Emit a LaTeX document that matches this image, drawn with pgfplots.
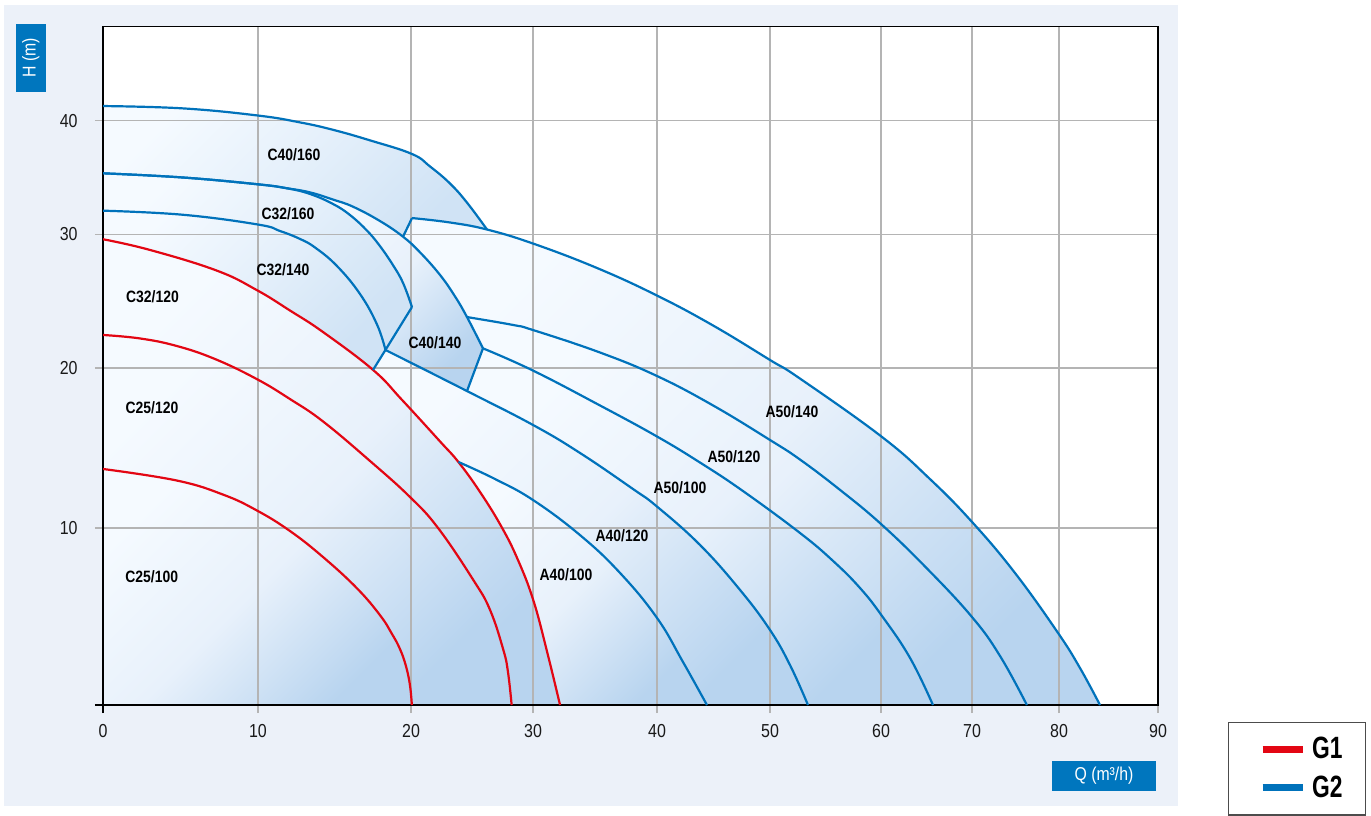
\documentclass[border=0pt]{standalone}
\usepackage{fontspec}
\setmainfont{Liberation Sans}[FakeStretch=0.85]
\newfontfamily\legfont{Liberation Sans}[FakeStretch=0.74]
\usepackage{pgfplots}
\pgfplotsset{compat=1.18}
\definecolor{panelcol}{HTML}{ECF1F9}
\definecolor{gridgray}{HTML}{B4B4B4}
\definecolor{boxblue}{HTML}{0076BE}
\definecolor{curveblue}{HTML}{0072BB}
\definecolor{curvered}{HTML}{E30613}
\definecolor{fillA}{HTML}{F5FAFF}
\definecolor{fillM}{HTML}{E8F1FB}
\definecolor{fillB}{HTML}{B8D4EF}
\definecolor{fillL}{HTML}{D0E3F5}
% non-linear scales of the original chart (piecewise linear between grid lines)
\pgfplotsset{
  x coord trafo/.code={\pgfmathparse{((#1)<10)?(15.5*(#1)):(((#1)<20)?(155+15.3*((#1)-10)):(((#1)<30)?(308+12.2*((#1)-20)):(((#1)<40)?(430+12.4*((#1)-30)):(((#1)<50)?(554+11.3*((#1)-40)):(((#1)<60)?(667+11.1*((#1)-50)):(((#1)<70)?(778+9.1*((#1)-60)):(((#1)<80)?(869+8.7*((#1)-70)):(956+9.9*((#1)-80)))))))))}},
  y coord trafo/.code={\pgfmathparse{((#1)<10)?(17.7*(#1)):(((#1)<20)?(177+16*((#1)-10)):(((#1)<30)?(337+13.37*((#1)-20)):(((#1)<40)?(470.7+11.36*((#1)-30)):(584.3+9.4*((#1)-40)))))}},
  regfill/.style={draw=none, top color=fillA, bottom color=fillB, middle color=fillM, shading angle=45},
  regfillL/.style={draw=none, top color=fillA, bottom color=fillL, middle color=fillA!55!fillL, shading angle=45},
  redc/.style={curvered, line width=1.1pt, smooth, tension=0.7},
  bluec/.style={curveblue, line width=1.1pt, smooth, tension=0.7},
  blues/.style={curveblue, line width=1.1pt},
  base/.style={at={(0pt,0pt)}, anchor=south west, width=527.5pt, height=339.15pt, scale only axis,
    xmin=0, xmax=90, ymin=0, ymax=50},
}
\begin{document}
\begin{tikzpicture}
\begin{scope}[x=0.5pt,y=-0.5pt,shift={(-51.5pt,352.5pt)}]
  \path[use as bounding box, fill=white] (0,0) rectangle (1371,806);
  \fill[panelcol] (4,5) rectangle (1178,806);
\end{scope}

% ---------- axis 1: frame, grid, shaded regions ----------
\begin{axis}[base,
  axis on top,
  axis background/.style={fill=white},
  xtick={10,20,30,40,50,60,70,80,90},
  xticklabels={10,20,30,40,50,60,70,80,90},
  ytick={10,20,30,40}, yticklabels={10,20,30,40},
  extra x ticks={0}, extra x tick labels={0},
  extra x tick style={grid=none, major tick style={draw=black, line width=0.6pt}},
  extra y ticks={0}, extra y tick labels={},
  extra y tick style={grid=none, major tick style={draw=black, line width=0.6pt}},
  grid=major,
  major grid style={draw=gridgray, line width=0.65pt},
  tick align=outside, tick pos=left,
  major tick length=4pt,
  major tick style={draw=gridgray, line width=0.65pt},
  axis line style={draw=black, line width=0.6pt},
  ticklabel style={font=\fontsize{9.4}{10}\selectfont, text=black!90},
  xticklabel style={inner sep=0pt, yshift=-5.5pt},
  yticklabel style={inner sep=0pt, xshift=-8.5pt},
  xlabel={Q (m³/h)}, ylabel={H (m)},
  xlabel style={at={(axis description cs:0.9488,-0.1042)}, anchor=center, fill=boxblue, text=white,
    inner sep=0pt, minimum width=52pt, minimum height=15pt, font=\fontsize{9.3}{10}\selectfont},
  ylabel style={at={(axis description cs:-0.0684,0.9541)}, anchor=center, fill=boxblue, text=white,
    inner sep=0pt, minimum width=33.85pt, minimum height=14.85pt, font=\fontsize{9.3}{10}\selectfont},
]
% C25/100
\addplot[regfill] coordinates {(0,0) (0,13.69) (4.75,12.97) (7.74,12.09) (9.92,11.1) (12.09,9.83) (14.25,8.36) (16.45,6.61) (17.97,5.08) (18.76,4.01) (19.28,3.16) (19.67,2.2) (19.93,1.13) (20.07,0)} -- cycle;
% C25/120
\addplot[regfill] coordinates {(0,22.47) (2.39,22.21) (4.75,21.65) (7.23,20.67) (9.92,19.31) (12.09,18.06) (14.25,16.66) (17.32,14.19) (19.93,11.94) (22.24,9.98) (25.11,7.06) (26.48,5.37) (27.57,3.11) (27.95,1.86) (28.25,0) (20.07,0) (19.93,1.13) (19.67,2.2) (19.28,3.16) (18.76,4.01) (17.97,5.08) (16.45,6.61) (14.25,8.36) (12.09,9.83) (9.92,11.1) (7.74,12.09) (4.75,12.97) (0,13.69)} -- cycle;
% C32/120
\addplot[regfill] coordinates {(0,29.63) (3.03,28.83) (7.33,27.29) (9.92,25.83) (12.09,24.3) (14.25,22.69) (17.52,19.88) (19.39,18.03) (22.38,15.41) (23.88,14.13) (25.66,12.25) (27.43,10.06) (28.77,8.19) (30.02,5.93) (31.1,3.11) (32.18,0) (28.25,0) (27.95,1.86) (27.57,3.11) (26.48,5.37) (25.11,7.06) (22.24,9.98) (19.93,11.94) (17.32,14.19) (14.25,16.66) (12.09,18.06) (9.92,19.31) (7.23,20.67) (4.75,21.65) (2.39,22.21) (0,22.47)} -- cycle;
% C32/140
\addplot[regfillL] coordinates {(0,32.08) (5.16,31.72) (10,30.86) (11.44,30.29) (12.75,29.65) (13.73,29.01) (15.16,27.63) (16.67,25.53) (17.78,23.25) (18.33,21.35) (17.52,19.88) (14.25,22.69) (12.09,24.3) (9.92,25.83) (7.33,27.29) (3.03,28.83) (0,29.63)} -- cycle;
% C32/160
\addplot[regfillL] coordinates {(0,35.37) (5.16,35.0) (10,34.4) (11.9,34.05) (13.4,33.55) (14.9,32.67) (16.01,31.7) (17.12,30.33) (17.97,29.12) (18.82,27.7) (19.48,26.36) (20.08,24.56) (18.33,21.35) (17.78,23.25) (16.67,25.53) (15.16,27.63) (13.73,29.01) (12.75,29.65) (11.44,30.29) (10,30.86) (5.16,31.72) (0,32.08)} -- cycle;
% C40/140
\addplot[regfill] coordinates {(11.9,34.05) (13.4,33.69) (14.9,33.06) (16.21,32.43) (17.97,31.17) (19.48,29.82) (20.74,28.65) (22.38,26.96) (23.61,25.35) (24.59,23.81) (25.9,21.47) (24.59,18.56) (18.33,21.35) (20.08,24.56) (19.48,26.36) (18.82,27.7) (17.97,29.12) (17.12,30.33) (16.01,31.7) (14.9,32.67) (13.4,33.55)} -- cycle;
% C40/160
\addplot[regfillL] coordinates {(0,41.56) (5.16,41.31) (10,40.55) (12.75,39.85) (14.9,39.2) (17.32,38.27) (20.08,37.07) (21.56,35.97) (23.2,34.47) (24.59,32.79) (26.23,30.42) (23.2,31.04) (20.08,31.43) (19.48,29.82) (17.97,31.17) (16.21,32.43) (14.9,33.06) (13.4,33.69) (11.9,34.05) (10,34.4) (5.16,35.0) (0,35.37)} -- cycle;
% A50/140
\addplot[regfill] coordinates {(20.08,31.43) (23.2,31.04) (26.23,30.42) (30,29.31) (35.16,27.48) (40,25.42) (44.96,23.18) (50,20.6) (52.7,19.34) (60.11,15.69) (65.38,13.06) (70,10.38) (74.94,7.46) (79.89,4.07) (82.12,2.09) (84.14,0) (76.31,0) (73.22,2.77) (70,4.97) (65,7.74) (60,10.25) (56.31,12.38) (52.7,14.28) (50,15.5) (44.96,17.66) (40,19.5) (35.4,21.16) (30,22.84) (28.36,23.22) (24.59,23.81) (23.61,25.35) (22.38,26.96) (20.74,28.65) (19.48,29.82)} -- cycle;
% A50/120
\addplot[regfill] coordinates {(24.59,23.81) (28.36,23.22) (30,22.84) (35.4,21.16) (40,19.5) (44.96,17.66) (50,15.5) (52.7,14.28) (56.31,12.38) (60,10.25) (65,7.74) (70,4.97) (73.22,2.77) (76.31,0) (65.71,0) (63.19,2.66) (60.11,5.03) (58.11,6.61) (55.68,8.14) (52.7,9.72) (47.61,12.31) (43.81,14.09) (40,15.72) (35.4,17.66) (30,19.84) (25.9,21.47)} -- cycle;
% A50/100
\addplot[regfill] coordinates {(25.9,21.47) (30,19.84) (35.4,17.66) (40,15.72) (43.81,14.09) (47.61,12.31) (52.7,9.72) (55.68,8.14) (58.11,6.61) (60.11,5.03) (63.19,2.66) (65.71,0) (53.42,0) (51.8,2.26) (50,4.24) (47.35,6.5) (43.81,9.04) (40,11.34) (38.06,12.44) (33.79,14.69) (30,16.44) (24.59,18.56)} -- cycle;
% A40/120
\addplot[regfill] coordinates {(18.33,21.35) (24.59,18.56) (30,16.44) (33.79,14.69) (38.06,12.44) (40,11.34) (43.81,9.04) (47.35,6.5) (50,4.24) (51.8,2.26) (53.42,0) (44.42,0) (42.3,2.43) (40,4.92) (37.02,7.46) (33.79,9.6) (30,11.75) (26.89,13.06) (23.88,14.13) (22.38,15.41) (19.39,18.03) (17.52,19.88)} -- cycle;
% A40/100
\addplot[regfill] coordinates {(23.88,14.13) (26.89,13.06) (30,11.75) (33.79,9.6) (37.02,7.46) (40,4.92) (42.3,2.43) (44.42,0) (32.18,0) (31.1,3.11) (30.02,5.93) (28.77,8.19) (27.43,10.06) (25.66,12.25)} -- cycle;
\end{axis}

% ---------- axis 2: pump curves and legend ----------
\begin{axis}[base, hide axis,
  legend style={at={(1.0664,-0.0251)}, anchor=north west, draw=black!70, line width=0.65pt, fill=white,
    inner xsep=11.5pt, inner ysep=7.4pt, row sep=6.8pt,
    nodes={inner sep=0pt, text=black},
    font=\legfont\bfseries\fontsize{15.4}{16}\selectfont,
    /tikz/every odd column/.append style={column sep=3pt}},
  legend cell align=left,
  legend image code/.code={\path[draw=none] (-5.5pt,0pt) -- (0pt,0pt); \draw[line width=3.5pt] (0pt,0pt) -- (20pt,0pt);},
]
% G1 (red): C25/100, C25/120, C32/120
\addplot[redc] coordinates {(0,13.69) (4.75,12.97) (7.74,12.09) (9.92,11.1) (12.09,9.83) (14.25,8.36) (16.45,6.61) (17.97,5.08) (18.76,4.01) (19.28,3.16) (19.67,2.2) (19.93,1.13) (20.07,0)};
\addlegendentry{G1}
\addplot[redc, forget plot] coordinates {(0,22.47) (2.39,22.21) (4.75,21.65) (7.23,20.67) (9.92,19.31) (12.09,18.06) (14.25,16.66) (17.32,14.19) (19.93,11.94) (22.24,9.98) (25.11,7.06) (26.48,5.37) (27.57,3.11) (27.95,1.86) (28.25,0)};
\addplot[redc, forget plot] coordinates {(0,29.63) (3.03,28.83) (7.33,27.29) (9.92,25.83) (12.09,24.3) (14.25,22.69) (17.52,19.88) (19.39,18.03) (22.38,15.41) (23.88,14.13) (25.66,12.25) (27.43,10.06) (28.77,8.19) (30.02,5.93) (31.1,3.11) (32.18,0)};
% G2 (blue)
% C40/160
\addplot[bluec] coordinates {(0,41.56) (5.16,41.31) (10,40.55) (12.75,39.85) (14.9,39.2) (17.32,38.27) (20.08,37.07) (21.56,35.97) (23.2,34.47) (24.59,32.79) (26.23,30.42)};
\addlegendentry{G2}
% C32/160
\addplot[bluec, forget plot] coordinates {(0,35.37) (5.16,35.0) (10,34.4) (11.9,34.05) (13.4,33.55) (14.9,32.67) (16.01,31.7) (17.12,30.33) (17.97,29.12) (18.82,27.7) (19.48,26.36) (20.08,24.56)};
% C40/140
\addplot[bluec, forget plot] coordinates {(0,35.37) (5.16,35.0) (10,34.4) (11.9,34.05) (13.4,33.69) (14.9,33.06) (16.21,32.43) (17.97,31.17) (19.48,29.82) (20.74,28.65) (22.38,26.96) (23.61,25.35) (24.59,23.81) (25.9,21.47)};
% C32/140
\addplot[bluec, forget plot] coordinates {(0,32.08) (5.16,31.72) (10,30.86) (11.44,30.29) (12.75,29.65) (13.73,29.01) (15.16,27.63) (16.67,25.53) (17.78,23.25) (18.33,21.35)};
% range end lines
\addplot[blues, forget plot] coordinates {(18.33,21.35) (17.52,19.88)};
\addplot[blues, forget plot] coordinates {(20.08,24.56) (18.33,21.35)};
\addplot[blues, forget plot] coordinates {(25.9,21.47) (24.59,18.56)};
\addplot[blues, forget plot] coordinates {(19.48,29.82) (20.08,31.43)};
% A50/140
\addplot[bluec, forget plot] coordinates {(20.08,31.43) (23.2,31.04) (26.23,30.42) (30,29.31) (35.16,27.48) (40,25.42) (44.96,23.18) (50,20.6) (52.7,19.34) (60.11,15.69) (65.38,13.06) (70,10.38) (74.94,7.46) (79.89,4.07) (82.12,2.09) (84.14,0)};
% A50/120
\addplot[bluec, forget plot] coordinates {(24.59,23.81) (28.36,23.22) (30,22.84) (35.4,21.16) (40,19.5) (44.96,17.66) (50,15.5) (52.7,14.28) (56.31,12.38) (60,10.25) (65,7.74) (70,4.97) (73.22,2.77) (76.31,0)};
% A50/100
\addplot[bluec, forget plot] coordinates {(25.9,21.47) (30,19.84) (35.4,17.66) (40,15.72) (43.81,14.09) (47.61,12.31) (52.7,9.72) (55.68,8.14) (58.11,6.61) (60.11,5.03) (63.19,2.66) (65.71,0)};
% A40/120
\addplot[bluec, forget plot] coordinates {(18.33,21.35) (24.59,18.56) (30,16.44) (33.79,14.69) (38.06,12.44) (40,11.34) (43.81,9.04) (47.35,6.5) (50,4.24) (51.8,2.26) (53.42,0)};
% A40/100
\addplot[bluec, forget plot] coordinates {(23.88,14.13) (26.89,13.06) (30,11.75) (33.79,9.6) (37.02,7.46) (40,4.92) (42.3,2.43) (44.42,0)};
\end{axis}

% ---------- curve names ----------
\begin{scope}[x=0.5pt,y=-0.5pt,shift={(-51.5pt,352.5pt)}, every node/.style={font=\bfseries\fontsize{8.2}{9}\selectfont, text=black, inner sep=0pt}]
  \node at (294,155) {C40/160};
  \node at (288,213.5) {C32/160};
  \node at (283,270) {C32/140};
  \node at (152.5,296.7) {C32/120};
  \node at (152,408) {C25/120};
  \node at (151.7,576.7) {C25/100};
  \node at (435,343) {C40/140};
  \node at (792,412) {A50/140};
  \node at (734,456.7) {A50/120};
  \node at (680,488) {A50/100};
  \node at (622,536) {A40/120};
  \node at (566,575) {A40/100};
\end{scope}
\end{tikzpicture}
\end{document}
